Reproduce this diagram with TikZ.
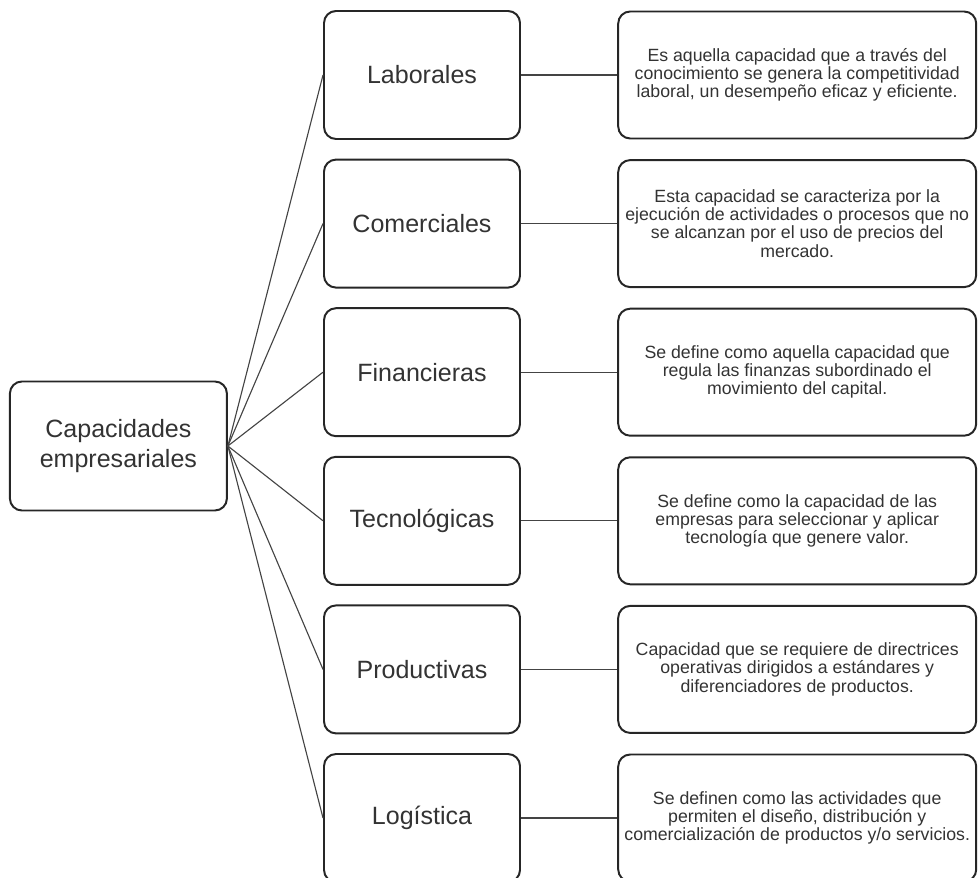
\documentclass[tikz,border=0pt]{standalone}
\usepackage{fontspec}
\setmainfont{Liberation Sans}
\definecolor{txtgray}{HTML}{333333}
\definecolor{linegray}{HTML}{444444}

\begin{document}
\begin{tikzpicture}[
    root/.style={rectangle, rounded corners=0.3cm, draw=black!85, line width=1.4pt, minimum width=5.425cm, minimum height=3.225cm, align=center, text=txtgray, font=\fontsize{17.8}{21.5}\selectfont},
    kind/.style={rectangle, rounded corners=0.3cm, draw=black!85, line width=1.4pt, minimum width=4.9cm, minimum height=3.2cm, align=center, text=txtgray, font=\fontsize{17.8}{21.5}\selectfont},
    desc/.style={rectangle, rounded corners=0.3cm, draw=black!85, line width=1.4pt, minimum width=8.95cm, minimum height=3.175cm, align=center, text=txtgray, font=\fontsize{12.6}{12.9}\selectfont},
    link/.style={draw=linegray, line width=0.8pt}
]
\useasboundingbox (0,0) rectangle (24.45,-21.95);

% Root
\node[root] (cap) at (2.96,-11.15) {Capacidades\\empresariales};

% Kinds of capacity
\node[kind] (lab) at (10.55,-1.875) {Laborales};
\node[kind] (com) at (10.55,-5.59) {Comerciales};
\node[kind] (fin) at (10.55,-9.305) {Financieras};
\node[kind] (tec) at (10.55,-13.02) {Tecnológicas};
\node[kind] (pro) at (10.55,-16.735) {Productivas};
\node[kind] (log) at (10.55,-20.45) {Logística};

% Descriptions
\node[desc] (dlab) at (19.93,-1.875) {Es aquella capacidad que a través del\\conocimiento se genera la competitividad\\laboral, un desempeño eficaz y eficiente.};
\node[desc] (dcom) at (19.93,-5.59) {Esta capacidad se caracteriza por la\\ejecución de actividades o procesos que no\\se alcanzan por el uso de precios del\\mercado.};
\node[desc] (dfin) at (19.93,-9.305) {Se define como aquella capacidad que\\regula las finanzas subordinado el\\movimiento del capital.};
\node[desc] (dtec) at (19.93,-13.02) {Se define como la capacidad de las\\empresas para seleccionar y aplicar\\tecnología que genere valor.};
\node[desc] (dpro) at (19.93,-16.735) {Capacidad que se requiere de directrices\\operativas dirigidos a estándares y\\diferenciadores de productos.};
\node[desc] (dlog) at (19.93,-20.45) {Se definen como las actividades que\\permiten el diseño, distribución y\\comercialización de productos y/o servicios.};

% Root to kinds
\draw[link] (cap.east) -- (lab.west);
\draw[link] (cap.east) -- (com.west);
\draw[link] (cap.east) -- (fin.west);
\draw[link] (cap.east) -- (tec.west);
\draw[link] (cap.east) -- (pro.west);
\draw[link] (cap.east) -- (log.west);

% Kinds to descriptions
\draw[link] (lab) -- (dlab);
\draw[link] (com) -- (dcom);
\draw[link] (fin) -- (dfin);
\draw[link] (tec) -- (dtec);
\draw[link] (pro) -- (dpro);
\draw[link] (log) -- (dlog);

\end{tikzpicture}
\end{document}
